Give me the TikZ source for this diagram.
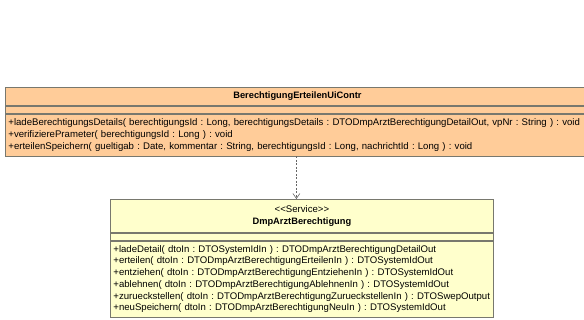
\documentclass[tikz,border=0pt]{standalone}
\usepackage{fontspec}
\setmainfont{Liberation Sans}
\usetikzlibrary{positioning,arrows.meta}

\definecolor{ctrlfill}{RGB}{255,204,153}
\definecolor{svcfill}{RGB}{255,255,204}
\definecolor{umlline}{RGB}{120,120,110}
\newcommand{\umltext}{\fontsize{9.6}{11.7}\selectfont\frenchspacing}
\newcommand{\umltitle}{\fontsize{9.3}{12}\selectfont\bfseries}

\begin{document}
\begin{tikzpicture}[x=1pt,y=1pt,node distance=0pt,
    umlpart/.style={draw=umlline,line width=0.8pt,inner xsep=3pt,inner ysep=0pt,font=\umltext},
    ctrlpart/.style={umlpart,fill=ctrlfill,text width=578pt},
    svcpart/.style={umlpart,fill=svcfill,text width=377pt},
    dep/.style={-{Straight Barb[length=5pt,width=7pt]},dash pattern=on 2pt off 1.5pt,draw=black!60,line width=0.6pt}]
    \useasboundingbox (0,0) rectangle (584,-320);
    \fill[white] (0,0) rectangle (584,-320);
    % controller class
    \node[ctrlpart,anchor=north west,align=center,minimum height=18pt] (ctrl) at (5,-87) {\umltitle BerechtigungErteilenUiContr};
    \node[ctrlpart,minimum height=7pt,below=of ctrl] (ctrlattr) {};
    \node[ctrlpart,align=left,minimum height=42pt,below=of ctrlattr] (ctrlops) {%
        +ladeBerechtigungsDetails( berechtigungsId : Long, berechtigungsDetails : DTODmpArztBerechtigungDetailOut, vpNr : String ) : void\\
        +verifizierePrameter( berechtigungsId : Long ) : void\\
        +erteilenSpeichern( gueltigab : Date, kommentar : String, berechtigungsId : Long, nachrichtId : Long ) : void};
    % service class
    \node[svcpart,anchor=north west,align=center,minimum height=33pt] (svc) at (110,-199) {<{}<Service>{}>\\\umltitle DmpArztBerechtigung};
    \node[svcpart,minimum height=7pt,below=of svc] (svcattr) {};
    \node[svcpart,align=left,minimum height=76pt,below=of svcattr] (svcops) {%
        +ladeDetail( dtoIn : DTOSystemIdIn ) : DTODmpArztBerechtigungDetailOut\\
        +erteilen( dtoIn : DTODmpArztBerechtigungErteilenIn ) : DTOSystemIdOut\\
        +entziehen( dtoIn : DTODmpArztBerechtigungEntziehenIn ) : DTOSystemIdOut\\
        +ablehnen( dtoIn : DTODmpArztBerechtigungAblehnenIn ) : DTOSystemIdOut\\
        +zurueckstellen( dtoIn : DTODmpArztBerechtigungZurueckstellenIn ) : DTOSwepOutput\\
        +neuSpeichern( dtoIn : DTODmpArztBerechtigungNeuIn ) : DTOSystemIdOut};
    % dependency
    \draw[dep] ([xshift=-5.5pt]svc.north |- ctrlops.south) -- ([xshift=-5.5pt]svc.north);
\end{tikzpicture}
\end{document}
